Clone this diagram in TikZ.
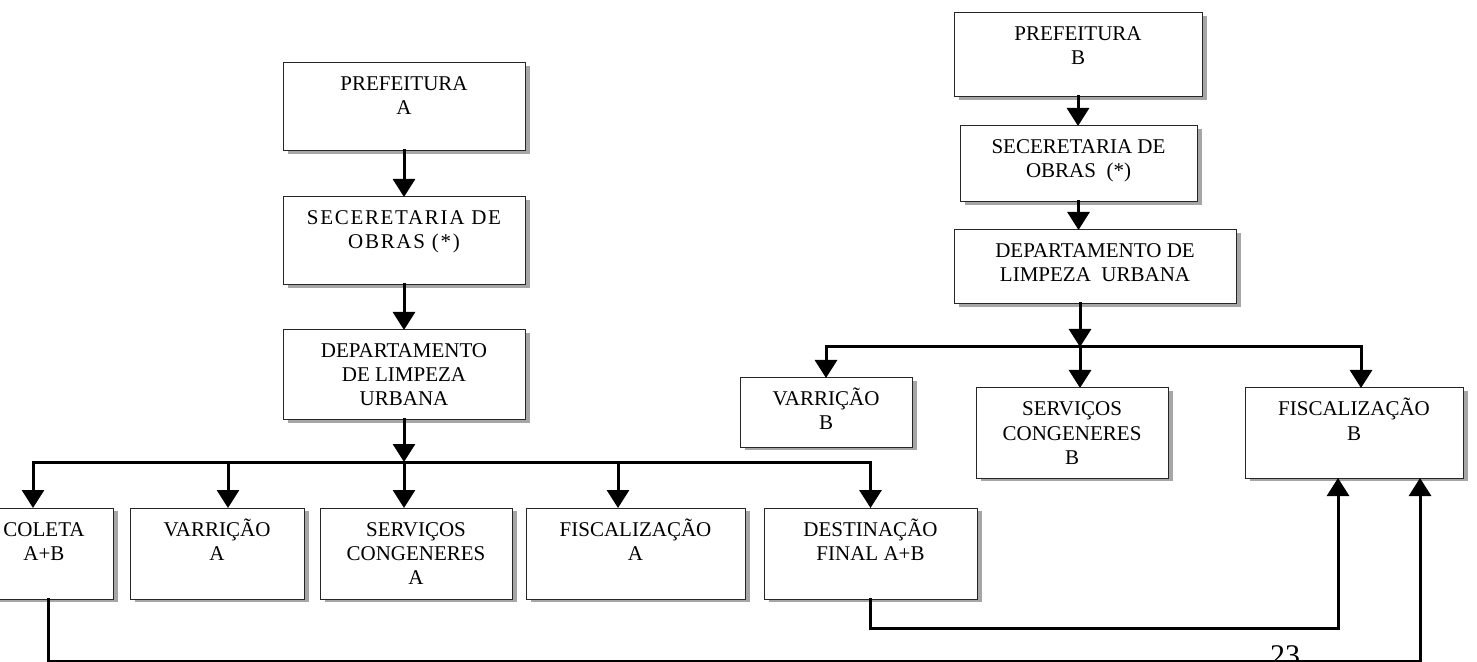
\documentclass[tikz,border=0pt]{standalone}
\usepackage{fontspec}
\setmainfont{Liberation Serif}
\usetikzlibrary{arrows.meta,shadows,calc}
\tikzset{
  bx/.style={draw=black!85, line width=0.5pt, fill=white, inner sep=0pt, outer sep=0pt,
    general shadow={fill=black!35, shadow xshift=2.5pt, shadow yshift=-1.5pt},
    font=\fontsize{10.5}{12}\selectfont},
  arr/.style={line width=1.5pt, line cap=rect, -{Triangle[length=9pt,width=11pt]}},
  pgnum/.style={font=\fontsize{15}{18}\selectfont, anchor=north, inner sep=0pt},
}
% name, x1, y1, x2, y2 (pixels), text
\newcommand\orgbox[6]{%
  \pgfmathsetlengthmacro\obw{(#4-#2)*0.5pt}%
  \pgfmathsetlengthmacro\obh{(#5-#3)*0.5pt}%
  \node[bx] (#1) at ({(#2+#4)/2},{(#3+#5)/2})
    {\parbox[c][\obh][t]{\obw}{\centering\vspace*{2pt}\prevdepth=0pt\relax #6\par}};%
}
\begin{document}
\begin{tikzpicture}[x=0.5pt,y=-0.5pt]
\useasboundingbox (0,0) rectangle (1477,662);
\clip (0,0) rectangle (1477,662);
\fill[white] (0,0) rectangle (1477,662);

% Municipality A
\orgbox{PA}{283}{63}{525}{151}{PREFEITURA\\A}
\orgbox{SA}{283}{197}{525}{285}{\addfontfeature{LetterSpace=8}SECERETARIA DE\\OBRAS (*)}
\orgbox{DA}{283}{330}{525}{420}{DEPARTAMENTO\\DE LIMPEZA\\URBANA}
\orgbox{CO}{-25}{508}{113}{599}{COLETA\\A+B}
\orgbox{VA}{130}{508}{304}{599}{VARRIÇÃO\\A}
\orgbox{SCA}{320}{508}{512}{599}{SERVIÇOS\\CONGENERES\\A}
\orgbox{FA}{526}{508}{745}{599}{FISCALIZAÇÃO\\A}
\orgbox{DF}{764}{508}{977}{599}{DESTINAÇÃO\\FINAL A+B}

% Municipality B
\orgbox{PB}{954}{13}{1202}{97}{PREFEITURA\\B}
\orgbox{SB}{960}{126}{1197}{202}{SECERETARIA DE\\OBRAS~~(*)}
\orgbox{DB}{954}{230}{1236}{304}{DEPARTAMENTO DE\\LIMPEZA~~URBANA}
\orgbox{VB}{740}{378}{912}{447}{VARRIÇÃO\\B}
\orgbox{SCB}{976}{388}{1168}{478}{SERVIÇOS\\CONGENERES\\B}
\orgbox{FB}{1245}{388}{1463}{478}{FISCALIZAÇÃO\\B}

\node[pgnum] (pg) at (1285,645) {23};

\coordinate (yA) at (0,462);
\coordinate (yB) at (0,347);

% A chain
\draw[arr] (PA.south) -- (SA.north);
\draw[arr] (SA.south) -- (DA.north);
\draw[arr] (DA.south) -- (DA.south |- yA);
\draw[arr] (DF.north |- yA) -- ([xshift=-5.5pt]CO.north |- yA) -- ([xshift=-5.5pt]CO.north);
\draw[arr] (DF.north |- yA) -- (DF.north);
\draw[arr] ([xshift=5.5pt]VA.north |- yA) -- ([xshift=5.5pt]VA.north);
\draw[arr] (DA.south |- yA) -- (DA.south |- SCA.north);
\draw[arr] ([xshift=-8.75pt]FA.north |- yA) -- ([xshift=-8.75pt]FA.north);

% B chain
\draw[arr] (PB.south) -- (PB.south |- SB.north);
\draw[arr] (SB.south) -- (SB.south |- DB.north);
\draw[arr] ([xshift=-7.5pt]DB.south) -- ([xshift=-7.5pt]DB.south |- yB);
\draw[arr] (VB.north |- yB) -- ([xshift=3.5pt]FB.north |- yB) -- ([xshift=3.5pt]FB.north);
\draw[arr] (VB.north |- yB) -- (VB.north);
\draw[arr] ([xshift=-7.5pt]DB.south |- yB) -- ([xshift=-7.5pt]DB.south |- SCB.north);

% links to Fiscalizacao B
\draw[arr] (DF.south) -- ++(0,-14.5pt) -| ([xshift=-8pt]FB.south);
\draw[arr] ([xshift=2pt]CO.south) -- ++(0,-31pt) -| ([xshift=33pt]FB.south);
\end{tikzpicture}
\end{document}
